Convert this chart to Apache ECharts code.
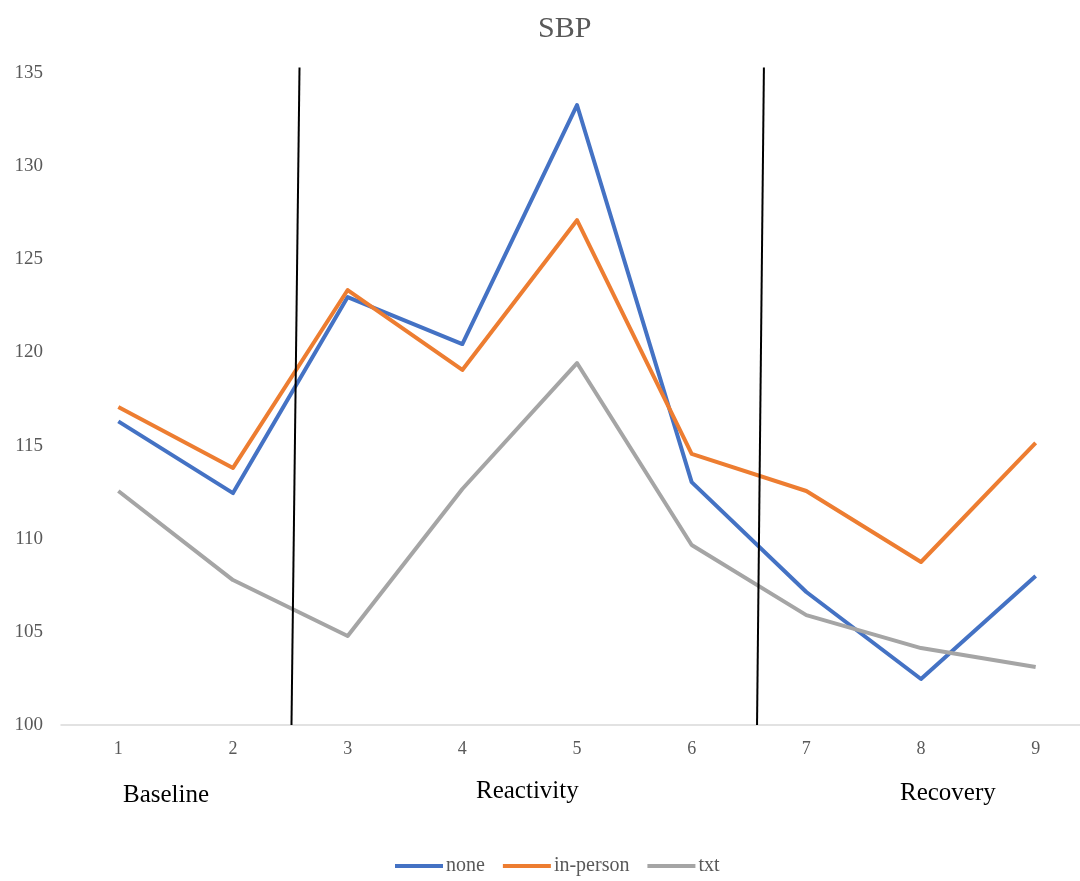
<!DOCTYPE html>
<html>
<head>
<meta charset="utf-8">
<script src="https://cdn.jsdelivr.net/npm/echarts@6/dist/echarts.min.js"></script>
<style>
  html, body { margin: 0; padding: 0; background: #fff; }
  #SBP { width: 1080px; height: 881px; }
</style>
</head>
<body>
<div id="SBP"></div>
<script>
/* categories and values */
var categories = ['1', '2', '3', '4', '5', '6', '7', '8', '9'];
var noneData = [116.3, 112.45, 122.97, 120.45, 133.28, 113.04, 107.14, 102.47, 108.0];
var inPersonData = [117.07, 113.8, 123.35, 119.06, 127.1, 114.55, 112.56, 108.75, 115.14];
var txtData = [112.56, 107.78, 104.78, 112.67, 119.43, 109.66, 105.9, 104.13, 103.11];
// phase dividers, [category position, value] (0-based category index)
var divider1 = [[1.58, 135.3], [1.51, 100]];
var divider2 = [[5.63, 135.3], [5.57, 100]];
var phaseLabels = ['Baseline', 'Reactivity', 'Recovery'];

var serif = '"Liberation Serif", "Times New Roman", serif';

function lineSeries(name, data, color) {
    return {
        name: name,
        type: 'line',
        data: data,
        symbol: 'none',
        lineStyle: { color: color, width: 4, join: 'round' },
        itemStyle: { color: color },
        z: 3
    };
}

function dividerSeries(data) {
    return {
        type: 'line',
        xAxisIndex: 1,
        data: data,
        symbol: 'none',
        clip: false,
        silent: true,
        lineStyle: { color: '#000', width: 2 },
        z: 4
    };
}

var option = {
    backgroundColor: '#fff',
    animation: false,
    title: {
        text: 'SBP',
        left: 533,
        top: 9,
        textStyle: {
            color: '#595959',
            fontFamily: serif,
            fontWeight: 'normal',
            fontSize: 30
        }
    },
    legend: {
        data: ['none', 'in-person', 'txt'],
        bottom: 0,
        left: 390,
        icon: 'rect',
        itemWidth: 48,
        itemHeight: 4,
        itemGap: 18,
        textStyle: {
            color: '#595959',
            fontFamily: serif,
            fontSize: 20,
            padding: [0, 0, 0, -2]
        }
    },
    grid: {
        left: 61,
        right: -13,
        top: 73,
        bottom: 156,
        outerBoundsMode: 'none'
    },
    xAxis: [{
        type: 'category',
        data: categories,
        boundaryGap: true,
        axisTick: { show: false },
        axisLine: { lineStyle: { color: '#d9d9d9', width: 1.5 } },
        axisLabel: {
            color: '#595959',
            fontFamily: serif,
            fontSize: 18,
            margin: 15
        },
        splitLine: { show: false }
    }, {
        type: 'value',
        min: -0.5,
        max: 8.5,
        show: false
    }],
    yAxis: {
        type: 'value',
        min: 100,
        max: 135,
        interval: 5,
        axisLine: { show: false },
        axisTick: { show: false },
        splitLine: { show: false },
        axisLabel: {
            color: '#595959',
            fontFamily: serif,
            fontSize: 19,
            margin: 18
        }
    },
    graphic: [
        { type: 'text', left: 123, top: 783, style: { text: phaseLabels[0], fill: '#000', font: '25px ' + serif } },
        { type: 'text', left: 476, top: 779, style: { text: phaseLabels[1], fill: '#000', font: '25px ' + serif } },
        { type: 'text', left: 900, top: 781, style: { text: phaseLabels[2], fill: '#000', font: '25px ' + serif } }
    ],
    series: [
        lineSeries('none', noneData, '#4472c4'),
        lineSeries('in-person', inPersonData, '#ed7d31'),
        lineSeries('txt', txtData, '#a5a5a5'),
        dividerSeries(divider1),
        dividerSeries(divider2)
    ]
};

var myChart = echarts.init(document.getElementById('SBP'));
myChart.setOption(option);
</script>
</body>
</html>
